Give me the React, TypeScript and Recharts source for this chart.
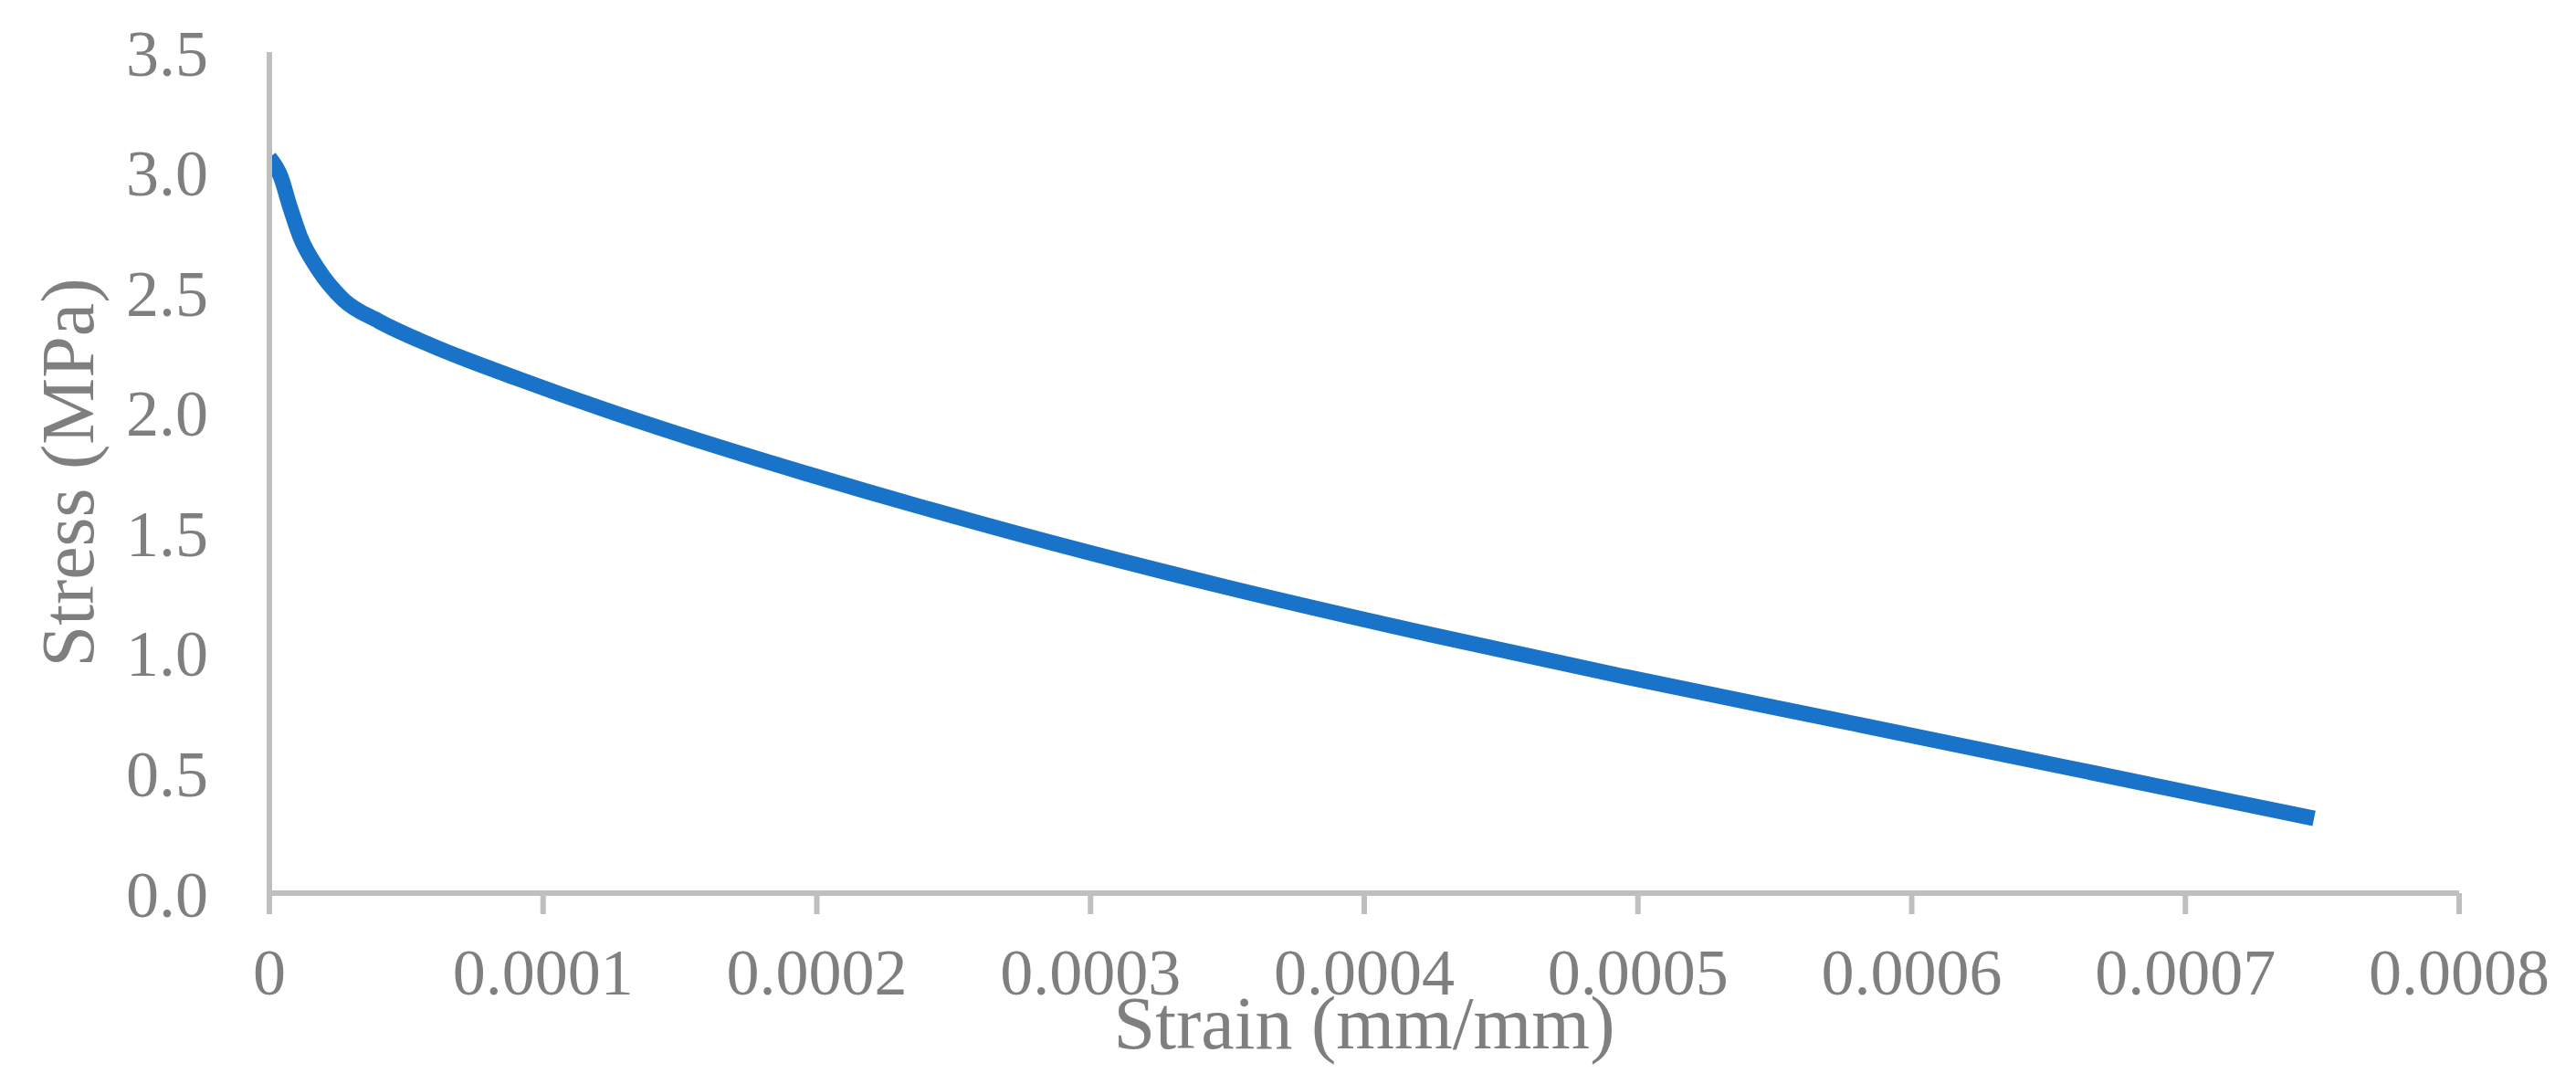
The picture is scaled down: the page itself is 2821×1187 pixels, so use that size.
import { LineChart, Line, XAxis, YAxis, Label } from "recharts";

// strain (mm/mm)
const strain = [
  0, 0.0000042, 0.0000074, 0.0000113, 0.0000176, 0.000027, 0.00004, 0.000059,
  0.000091, 0.000123, 0.000155, 0.000195, 0.000272, 0.000349, 0.000425,
  0.0004955, 0.000574, 0.000652, 0.000747,
];
// stress (MPa)
const stress = [
  3.06, 2.98, 2.86, 2.73, 2.6, 2.47, 2.38, 2.28, 2.14, 2.01, 1.89, 1.75, 1.5,
  1.275, 1.074, 0.9, 0.717, 0.534, 0.311,
];

const xTicks = [0, 0.0001, 0.0002, 0.0003, 0.0004, 0.0005, 0.0006, 0.0007, 0.0008];
const xTickLabels = ["0", "0.0001", "0.0002", "0.0003", "0.0004", "0.0005", "0.0006", "0.0007", "0.0008"];
const yTicks = [0, 0.5, 1, 1.5, 2, 2.5, 3, 3.5];

const data = strain.map((s, i) => ({ strain: s, stress: stress[i] }));

const FONT = '"Liberation Serif", "Times New Roman", serif';
const GRAY = "#7f7f7f";
const AXIS = "#bfbfbf";

export default function App() {
  return (
    <div style={{ position: "absolute", left: 0, top: 0, background: "#fff" }}>
      <LineChart
        width={2821}
        height={1187}
        data={data}
        margin={{ top: 57, right: 128, bottom: 59, left: 0 }}
      >
        <XAxis
          type="number"
          dataKey="strain"
          domain={[0, 0.0008]}
          ticks={xTicks}
          tickFormatter={(v: number) => xTickLabels[xTicks.indexOf(v)] ?? String(v)}
          height={150}
          stroke={AXIS}
          strokeWidth={6}
          tickSize={23}
          tickMargin={37}
          tick={{ fill: GRAY, fontSize: 72, fontFamily: FONT }}
          allowDataOverflow
        >
          <Label
            content={({ viewBox }: any) => (
              <text
                x={viewBox.x + viewBox.width / 2}
                y={viewBox.y + 170}
                textAnchor="middle"
                fill={GRAY}
                fontSize={82}
                fontFamily={FONT}
              >
                Strain (mm/mm)
              </text>
            )}
          />
        </XAxis>
        <YAxis
          type="number"
          domain={[0, 3.5]}
          ticks={yTicks}
          tickFormatter={(v: number) => v.toFixed(1)}
          width={295}
          stroke={AXIS}
          strokeWidth={6}
          tickLine={false}
          tickSize={0}
          tickMargin={67}
          tick={{ fill: GRAY, fontSize: 72, fontFamily: FONT }}
        >
          <Label
            content={({ viewBox }: any) => {
              const cx = 74;
              const cy = viewBox.y + viewBox.height / 2;
              return (
                <text
                  x={cx}
                  y={cy}
                  transform={`rotate(-90, ${cx}, ${cy})`}
                  textAnchor="middle"
                  dominantBaseline="central"
                  fill={GRAY}
                  fontSize={82}
                  fontFamily={FONT}
                >
                  Stress (MPa)
                </text>
              );
            }}
          />
        </YAxis>
        <Line
          type="monotone"
          dataKey="stress"
          stroke="#1973c8"
          strokeWidth={17}
          dot={false}
          activeDot={false}
          isAnimationActive={false}
        />
      </LineChart>
    </div>
  );
}
